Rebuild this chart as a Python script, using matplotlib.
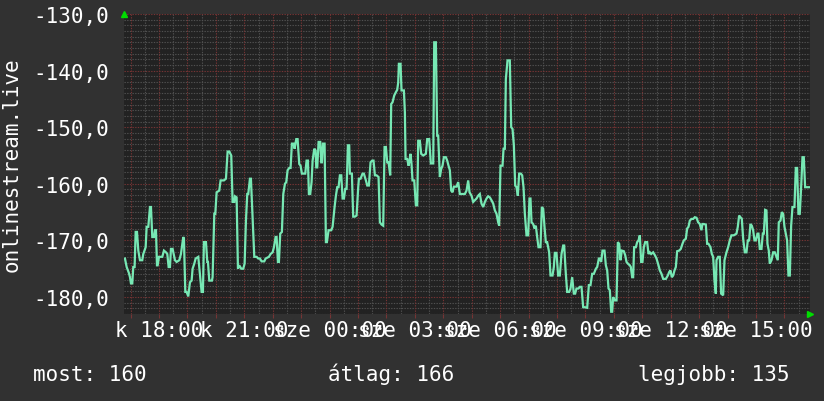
import matplotlib
matplotlib.use("Agg")
import matplotlib.pyplot as plt
import numpy as np

# time in minutes since 17:00 (day 1), value
t_min = [
 -12.0, -8.4, -3.5, -1.4, 0.7, 3.5, 5.6, 8.4, 10.6, 13.4, 16.2, 19.7, 24.6, 26.7, 31.7, 33.8, 37.3, 40.8, 42.9, 45.7,
 49.2, 51.3, 53.5, 55.6, 57.0, 59.8, 66.8, 70.3, 74.6, 77.4, 80.2, 83.0, 85.1, 88.6, 93.6, 97.1, 102.7, 106.2, 111.1, 112.5,
 115.4, 118.2, 121.7, 125.2, 128.7, 130.8, 134.4, 137.2, 142.8, 149.8, 152.6, 154.7, 159.0, 161.8, 163.2, 166.0, 171.6, 173.0, 176.6, 178.7,
 181.5, 187.1, 189.9, 197.0, 201.2, 204.7, 208.2, 212.4, 215.2, 218.8, 220.2, 223.7, 226.5, 229.3, 233.5, 237.7, 240.6, 243.4, 246.2, 248.3,
 251.8, 253.9, 257.4, 261.0, 265.9, 269.4, 272.9, 276.4, 282.1, 284.9, 291.9, 295.4, 299.7, 302.5, 306.0, 308.1, 310.9, 313.0, 315.8, 319.3,
 322.2, 325.7, 328.5, 331.3, 334.8, 337.6, 340.4, 344.0, 346.1, 349.6, 352.4, 355.9, 358.7, 361.5, 368.6, 371.4, 374.2, 376.3, 379.1, 381.9,
 384.1, 387.6, 390.4, 391.8, 393.9, 396.7, 400.2, 402.3, 403.7, 405.9, 409.4, 412.2, 414.3, 417.8, 423.5, 426.3, 430.5, 433.3, 436.1, 438.9,
 441.7, 444.6, 447.4, 450.2, 453.0, 455.8, 458.6, 461.4,
 462.8, 467.0, 469.8, 473.4, 476.9, 480.4, 481.8, 485.3, 489.5, 492.3, 496.6, 499.4, 502.9, 506.4, 509.9, 512.7, 515.6, 519.1, 523.3, 526.1,
 529.6, 533.1, 536.0, 538.8, 541.6, 544.4, 547.9, 550.0, 552.8, 556.4, 559.9, 562.7, 564.8, 566.2, 569.7, 571.8, 574.6, 576.8, 578.9, 580.3,
 583.8, 586.6, 588.7, 590.8, 592.9, 595.0, 598.6, 602.1, 604.9, 607.0, 610.5, 613.3, 617.5, 623.2, 626.0, 630.2, 633.7, 638.7, 640.8, 644.3,
 647.1, 649.2, 652.7, 655.5, 658.3, 661.2, 665.4, 668.2, 671.0, 673.8, 676.6, 679.4, 682.3, 687.9, 691.4, 694.9, 698.4, 705.5, 709.0, 712.5,
 715.3, 719.5, 723.1, 726.6, 730.1, 733.6, 737.1, 740.6, 744.2, 747.7, 751.2, 754.7, 758.2, 761.7, 765.3, 768.8, 772.3, 775.8, 777.9, 780.7,
 785.0, 787.1, 789.9, 792.0, 795.5, 800.4, 803.3, 806.1, 808.9, 811.7, 814.5, 817.3, 820.1, 823.6, 826.5, 829.3, 832.1, 835.6, 839.1, 841.9,
 844.0, 846.2, 849.7, 852.5, 855.3, 858.1, 860.9, 865.1, 868.0, 870.8, 873.6, 876.4, 879.2, 883.4, 886.3, 890.5, 893.3, 895.4, 898.9, 902.4,
 905.9, 909.5, 913.0, 915.1, 918.6, 921.4, 925.6, 928.5, 932.0, 935.5, 938.3, 941.1, 945.3,
 948.2, 951.7, 955.2, 958.8, 963.7, 967.2, 970.7, 974.2, 977.7, 982.0, 984.8, 988.3, 990.4, 993.2, 996.0, 1000.2, 1003.1, 1005.9, 1008.7, 1011.5,
 1014.3, 1016.4, 1018.5, 1022.1, 1025.6, 1028.4, 1031.2, 1034.0, 1036.8, 1041.0, 1043.9, 1046.7, 1049.5, 1053.7, 1055.8, 1058.6, 1060.7, 1062.8, 1066.4, 1069.2,
 1072.0, 1074.8, 1077.6, 1080.4, 1083.2, 1086.1, 1090.3, 1093.1, 1095.9, 1098.7, 1102.9, 1106.5, 1110.0, 1114.2, 1117.0, 1120.5, 1124.1, 1129.7, 1133.9, 1136.7,
 1139.5, 1142.3, 1145.2, 1148.0, 1150.8, 1153.6, 1157.8, 1161.3, 1164.8, 1167.7, 1171.9, 1174.7, 1177.5, 1180.3, 1183.8, 1187.4, 1190.9, 1194.4, 1197.9, 1201.4,
 1204.9, 1207.0, 1209.9, 1214.1, 1216.9, 1219.7, 1223.9, 1226.8, 1229.6, 1232.4, 1235.2, 1236.6, 1240.1, 1243.6, 1246.4, 1250.7, 1253.5, 1257.7, 1261.2, 1264.7,
 1268.2, 1273.2, 1278.8, 1281.6, 1284.4, 1287.2, 1290.1, 1292.9, 1296.4, 1299.9, 1302.7, 1305.5, 1308.3, 1311.2, 1314.0, 1316.8, 1319.6, 1323.1, 1325.2, 1328.0,
 1331.6, 1334.4, 1336.5, 1339.3, 1342.1, 1344.2, 1347.0, 1349.1, 1352.7, 1356.2, 1359.7, 1363.2, 1366.0, 1368.1, 1371.7, 1374.5, 1377.3, 1380.1, 1382.9, 1385.7,
 1388.5, 1391.4, 1394.2, 1397.0, 1401.2, 1404.0, 1406.8, 1409.6, 1412.4, 1415.3, 1418.1, 1420.9, 1423.7, 1427.9, 1433.5,
]
values = [
 -173.2, -174.7, -175.8, -176.5, -177.6, -177.6, -174.7, -174.7, -168.5, -168.5, -171.8, -173.5, -173.5, -172.4, -171.2, -167.6, -167.6, -164.1, -164.1, -169.4,
 -169.4, -168.2, -168.2, -174.4, -174.4, -172.9, -172.9, -171.8, -172.1, -172.4, -174.7, -174.7, -171.5, -171.5, -173.5, -173.8, -173.5, -172.4, -169.4, -169.7,
 -179.1, -179.1, -179.9, -177.4, -177.1, -175.0, -174.1, -173.2, -172.9, -179.1, -179.1, -170.3, -170.3, -173.8, -173.8, -177.1, -177.1, -176.5, -165.3, -165.3,
 -161.5, -161.2, -159.4, -159.4, -159.1, -154.3, -154.3, -155.0, -163.2, -163.2, -162.2, -162.4, -175.0, -174.4, -175.0, -175.0, -174.1, -166.5, -161.8, -161.8,
 -159.1, -159.1, -165.9, -172.9, -172.9, -173.2, -173.2, -173.7, -173.7, -173.2, -172.9, -172.4, -172.1, -171.2, -169.4, -169.4, -173.8, -173.8, -168.8, -168.5,
 -161.8, -160.0, -159.7, -157.6, -157.2, -157.2, -152.9, -152.9, -153.8, -152.1, -152.1, -156.5, -156.8, -158.2, -158.2, -155.9, -155.9, -161.8, -161.8, -159.7,
 -155.9, -153.8, -154.1, -157.1, -157.1, -152.6, -152.6, -156.2, -156.2, -152.9, -152.9, -170.3, -170.3, -168.2, -168.2, -167.6, -164.1, -162.1, -160.6, -160.6,
 -158.5, -158.5, -162.6, -162.6, -160.9, -160.9, -153.2, -153.2,
 -158.2, -158.2, -165.8, -165.8, -165.6, -160.6, -159.1, -159.1, -158.2, -158.2, -159.4, -160.3, -160.3, -156.2, -155.9, -155.9, -158.5, -158.5, -158.8, -166.8,
 -167.2, -167.4, -153.5, -153.5, -156.2, -156.2, -158.5, -145.9, -145.6, -144.4, -143.8, -143.4, -142.1, -138.8, -138.8, -143.5, -143.5, -143.5, -147.4, -155.6,
 -155.6, -156.8, -155.9, -154.7, -156.5, -159.4, -159.4, -163.8, -163.8, -152.4, -152.4, -154.7, -155.0, -154.7, -152.1, -152.1, -156.4, -156.4, -135.0, -135.0,
 -151.5, -151.5, -158.8, -157.4, -156.8, -155.3, -155.3, -155.9, -156.8, -157.6, -161.2, -161.5, -160.5, -160.5, -159.7, -161.8, -161.8, -161.8, -161.2, -159.4,
 -161.5, -162.1, -163.2, -162.9, -162.6, -162.1, -161.8, -163.5, -164.1, -163.2, -162.6, -162.2, -162.4, -162.9, -163.5, -164.7, -165.3, -166.8, -167.4, -156.8,
 -156.8, -153.8, -153.8, -141.5, -138.2, -138.2, -150.0, -150.3, -153.2, -160.3, -160.6, -162.1, -158.2, -158.2, -158.5, -160.6, -165.3, -169.1, -169.1, -162.6,
 -162.6, -166.8, -167.1, -167.9, -167.4, -169.4, -171.2, -171.2, -164.1, -164.4, -167.6, -170.3, -170.3, -172.1, -176.2, -176.2, -174.7, -172.2, -172.2, -176.2,
 -176.2, -172.4, -170.9, -170.9, -175.9, -179.1, -179.1, -178.5, -176.5, -179.4, -179.4, -178.5, -178.5,
 -178.2, -178.2, -181.8, -181.8, -181.9, -177.9, -177.9, -175.9, -175.9, -175.0, -174.7, -173.2, -173.2, -173.8, -171.8, -171.8, -174.4, -175.3, -178.5, -178.8,
 -182.6, -182.6, -180.0, -180.6, -180.6, -170.3, -170.6, -173.5, -171.8, -171.9, -172.6, -173.8, -174.1, -174.4, -174.7, -176.5, -176.5, -171.2, -171.2, -170.3,
 -170.0, -169.1, -173.8, -173.8, -171.2, -170.3, -170.3, -172.4, -172.1, -172.4, -172.1, -172.6, -173.2, -174.4, -175.3, -175.9, -176.8, -176.8, -176.2, -175.6,
 -175.3, -176.5, -176.2, -175.3, -174.7, -171.9, -171.8, -171.5, -170.6, -170.0, -169.7, -167.9, -167.6, -166.5, -166.2, -166.2, -165.9, -166.0, -166.8, -167.1,
 -168.2, -167.1, -167.1, -167.2, -170.6, -170.6, -171.2, -172.4, -172.9, -177.1, -179.4, -173.5, -172.9, -172.9, -179.4, -179.7, -173.5, -172.1, -171.2, -170.0,
 -169.1, -169.1, -168.8, -167.6, -165.6, -165.9, -166.2, -169.7, -172.1, -172.1, -170.0, -170.0, -167.1, -167.4, -168.2, -170.0, -170.0, -168.8, -168.8, -171.5,
 -171.5, -168.8, -168.8, -164.6, -164.7, -170.6, -171.8, -174.1, -173.5, -172.1, -172.1, -172.9, -173.5, -166.8, -166.5, -165.0, -165.3, -167.6, -168.8, -170.0,
 -176.2, -176.2, -167.4, -164.1, -164.1, -157.2, -157.2, -165.3, -165.3, -160.6, -155.3, -155.3, -160.6, -160.6, -160.6,
]

tick_minutes = [60, 240, 420, 600, 780, 960, 1140, 1320]
tick_labels = ["k 18:00", "k 21:00", "sze 00:00", "sze 03:00",
               "sze 06:00", "sze 09:00", "sze 12:00", "sze 15:00"]
y_ticks = [-180, -170, -160, -150, -140, -130]
y_title = "onlinestream.live"
stat_labels = ["most: 160", "átlag: 166", "legjobb: 135"]

FIG_BG = "#313131"
AX_BG = "#222222"
LINE = "#77e8b4"
MINOR = "#505050"
MAJOR = "#763434"
TXT = "#ffffff"
FONT = "DejaVu Sans Mono"
FS = 15

W, H = 824, 402
fig = plt.figure(figsize=(W / 100, H / 100), dpi=100, facecolor=FIG_BG)
L, R, T, B = 124, 810, 15, 315
ax = fig.add_axes([L / W, 1 - B / H, (R - L) / W, (B - T) / H])
ax.set_facecolor(AX_BG)
for s in ax.spines.values():
    s.set_visible(False)

ax.set_xlim(-14, 1434)
ax.set_ylim(-183, -130)

GLW = 0.8
DOT = (0, (1.2, 1.2))
for m in range(0, 1440, 30):
    if m % 60:
        ax.axvline(m, color=MINOR, lw=GLW, ls=DOT, zorder=1)
for v in range(-183, -129):
    if v % 10:
        ax.axhline(v, color=MINOR, lw=GLW, ls=DOT, zorder=1)
for m in range(0, 1440, 60):
    ax.axvline(m, color=MAJOR, lw=GLW, ls=DOT, zorder=2)
for v in y_ticks:
    ax.axhline(v, color=MAJOR, lw=GLW, ls=DOT, zorder=2)

ax.plot(t_min, values, color=LINE, lw=1.6, zorder=5, solid_joinstyle="miter")

ax.set_xticks(tick_minutes)
ax.set_xticklabels(tick_labels, fontfamily=FONT, fontsize=FS, color=TXT)
ax.set_xticks(list(range(0, 1440, 60)), minor=True)
ax.tick_params(axis="x", which="major", length=3, width=0.8, color=MAJOR, pad=1)
ax.tick_params(axis="x", which="minor", length=3, width=0.8, color=MAJOR)
ax.set_yticks(y_ticks)
ax.set_yticklabels([f"{v:.1f}".replace(".", ",") for v in y_ticks],
                   fontfamily=FONT, fontsize=FS, color=TXT)
ax.tick_params(axis="y", length=0, pad=11)

ax.plot([0.0], [1.0], marker="^", ms=5, color="#00dd00", transform=ax.transAxes,
        clip_on=False, zorder=6)
ax.plot([1.0], [0.0], marker=">", ms=5, color="#00dd00", transform=ax.transAxes,
        clip_on=False, zorder=6)

fig.text(12 / W, 1 - 165 / H, y_title, rotation=90, ha="center", va="center",
         fontfamily=FONT, fontsize=FS, color=TXT)

yb = 1 - 381 / H
fig.text(33 / W, yb, stat_labels[0], ha="left", va="baseline", fontfamily=FONT, fontsize=FS, color=TXT)
fig.text(391 / W, yb, stat_labels[1], ha="center", va="baseline", fontfamily=FONT, fontsize=FS, color=TXT)
fig.text(790 / W, yb, stat_labels[2], ha="right", va="baseline", fontfamily=FONT, fontsize=FS, color=TXT)

fig.savefig("out.png", dpi=100, facecolor=FIG_BG)
